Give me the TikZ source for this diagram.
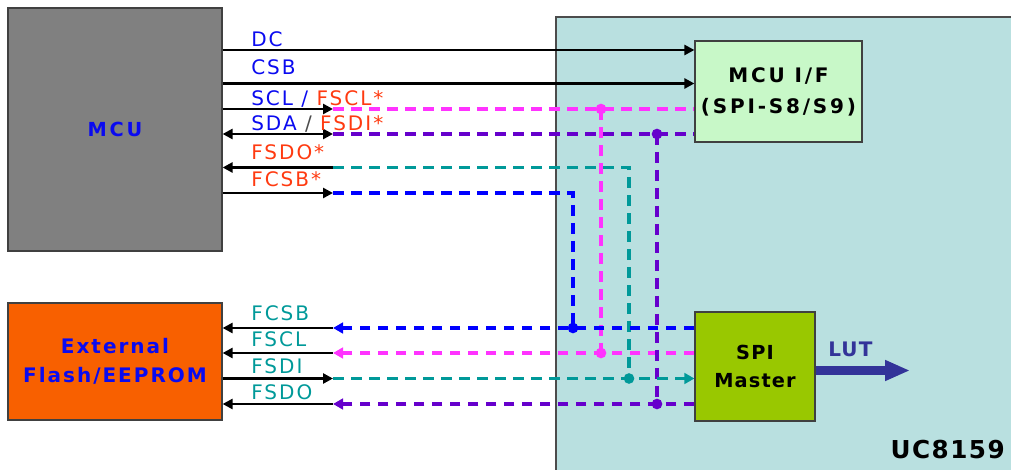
\documentclass[tikz,border=0pt]{standalone}
\usepackage{fontspec}
\setmainfont{DejaVu Sans}
\newfontfamily\lblfont[LetterSpace=10]{DejaVu Sans}
\newfontfamily\bldfont[LetterSpace=14]{DejaVu Sans Bold}
\newfontfamily\bldmid[LetterSpace=10]{DejaVu Sans Bold}
\newfontfamily\bldtight[LetterSpace=6]{DejaVu Sans Bold}
\usetikzlibrary{arrows.meta}
\definecolor{mcugray}{HTML}{808080}
\definecolor{extorange}{HTML}{F86000}
\definecolor{ucbg}{HTML}{B9E0E0}
\definecolor{ifgreen}{HTML}{C8F8C8}
\definecolor{spigreen}{HTML}{99C800}
\definecolor{lutblue}{HTML}{333399}
\definecolor{sigmag}{HTML}{FF33FF}
\definecolor{sigpur}{HTML}{6600CC}
\definecolor{sigteal}{HTML}{009999}
\definecolor{sigblue}{HTML}{0000FF}
\definecolor{txtblue}{HTML}{0A0AF0}
\definecolor{fred}{HTML}{FF3A10}
\begin{document}
\begin{tikzpicture}[x=0.75pt,y=-0.75pt,
  box/.style={draw=black!75, line width=0.9pt, inner sep=0pt, align=center},
  blk/.style={draw=black, line width=2pt},
  tipR/.style={-{Triangle[length=7.5pt,width=7.5pt]}},
  tipL/.style={{Triangle[length=7.5pt,width=7.5pt]}-},
  tipLR/.style={{Triangle[length=7.5pt,width=7.5pt]}-{Triangle[length=7.5pt,width=7.5pt]}},
  dtip/.style={-{Triangle[length=7.5pt,width=8pt]}},
  sigdash/.style={line width=2.8pt, dash pattern=on 8pt off 5.5pt},
  lbl/.style={inner sep=0pt, anchor=base west, font=\lblfont\fontsize{15}{18}\selectfont},
  jdot/.style={circle, fill, inner sep=0pt, minimum size=8pt}
]
\useasboundingbox (0,0) rectangle (1011,470);

% UC8159 container
\node[fill=ucbg, inner sep=0pt, minimum width=341.25pt, minimum height=339.75pt] (uc) at (783.5,243.5) {};
\draw[black!70, line width=1.2pt] (uc.south west) -- (uc.north west) -- (uc.north east);
\node[anchor=base east, inner sep=0pt, font=\bldtight\fontsize{18.5}{22}\selectfont] (ucl) at (1005,458) {UC8159};

% blocks
\node[box, fill=mcugray, minimum width=160.5pt, minimum height=182.25pt, text=txtblue, font=\bldfont\fontsize{14.5}{18}\selectfont] (mcu) at (115,129.5) {MCU};
\node[box, fill=extorange, minimum width=160.5pt, minimum height=87.75pt, text=txtblue, font=\bldmid\fontsize{15}{21.75}\selectfont] (ext) at (115,361.5) {External\\Flash/EEPROM};
\node[box, fill=ifgreen, minimum width=125.25pt, minimum height=75.75pt, font=\bldfont\fontsize{15}{23.4}\selectfont] (mcuif) at (778.5,91.5) {MCU I/F\\(SPI-S8/S9)};
\node[box, fill=spigreen, minimum width=90pt, minimum height=81.75pt, font=\bldtight\fontsize{14.5}{21}\selectfont] (spim) at (755,366.5) {SPI\\Master};

% coordinates
\coordinate (dcE) at (695,50);
\coordinate (csbE) at (695,83.5);
\coordinate (sclA) at (333,109);
\coordinate (sdaA) at (333,134);
\coordinate (fsdoA) at (333,167.5);
\coordinate (fcsbA) at (333,193);
\coordinate (bcsbA) at (333,328);
\coordinate (bsclA) at (333,353);
\coordinate (bsdiA) at (333,378.5);
\coordinate (bsdoA) at (333,404);
\coordinate (tcorner) at (629,167.5);
\coordinate (bcorner) at (573,193);

% solid MCU signals
\draw[blk, tipR] (mcu.east |- dcE) -- (mcuif.west |- dcE);
\draw[blk, tipR] (mcu.east |- csbE) -- (mcuif.west |- csbE);
\draw[blk, tipR] (mcu.east |- sclA) -- (sclA);
\draw[blk, tipLR] (mcu.east |- sdaA) -- (sdaA);
\draw[blk, tipL] (mcu.east |- fsdoA) -- (fsdoA);
\draw[blk, tipR] (mcu.east |- fcsbA) -- (fcsbA);

% solid flash signals
\draw[blk, tipL] (ext.east |- bcsbA) -- (bcsbA);
\draw[blk, tipL] (ext.east |- bsclA) -- (bsclA);
\draw[blk, tipR] (ext.east |- bsdiA) -- (bsdiA);
\draw[blk, tipL] (ext.east |- bsdoA) -- (bsdoA);

% dashed: magenta (SCL)
\draw[sigdash, sigmag, line width=2.5pt] (sclA) -- (mcuif.west |- sclA);
\draw[sigdash, sigmag, line width=2.5pt] (601,109) -- (601,353);
\draw[sigdash, sigmag, line width=2.5pt, dtip] (spim.west |- bsclA) -- (bsclA);
\node[jdot, sigmag] (jm1) at (601,109) {};
\node[jdot, sigmag] (jm2) at (601,353) {};

% dashed: purple (SDA)
\draw[sigdash, sigpur, line width=3.3pt] (sdaA) -- (mcuif.west |- sdaA);
\draw[sigdash, sigpur, line width=3.3pt] (657,134) -- (657,404);
\draw[sigdash, sigpur, line width=3.3pt, dtip] (spim.west |- bsdoA) -- (bsdoA);
\node[jdot, sigpur] (jp1) at (657,134) {};
\node[jdot, sigpur] (jp2) at (657,404) {};

% dashed: teal (FSDO / FSDI)
\draw[sigdash, sigteal] (fsdoA) -- (tcorner) -- (629,378.5);
\draw[sigdash, sigteal, dtip] (bsdiA) -- (spim.west |- bsdiA);
\node[jdot, sigteal] (jt) at (629,378.5) {};

% dashed: blue (FCSB)
\draw[sigdash, sigblue] (fcsbA) -- (bcorner) -- (573,328);
\draw[sigdash, sigblue, dtip] (spim.west |- bcsbA) -- (bcsbA);
\node[jdot, sigblue] (jb) at (573,328) {};

% LUT arrow
\coordinate (lutE) at (910,370.5);
\draw[lutblue, line width=6.75pt, -{Triangle[length=18.75pt,width=14.5pt]}] (spim.east |- lutE) -- (lutE);
\node[anchor=base west, inner sep=0pt, text=lutblue, font=\bldtight\fontsize{15}{18}\selectfont] (lut) at (828,357) {LUT};

% labels
\node[lbl, text=txtblue] (ldc) at (251,46.5) {DC};
\node[lbl, text=txtblue] (lcsb) at (251,75) {CSB};
\node[lbl] (lscl) at (251,106) {\textcolor{txtblue}{SCL / }\textcolor{fred}{FSCL*}};
\node[lbl] (lsda) at (251,131) {\textcolor{txtblue}{SDA }\textcolor{black!70}{/ }\textcolor{fred}{FSDI*}};
\node[lbl, text=fred] (lfsdo) at (251,160) {FSDO*};
\node[lbl, text=fred] (lfcsb) at (251,186.5) {FCSB*};
\node[lbl, text=sigteal] (bl1) at (251,320.5) {FCSB};
\node[lbl, text=sigteal] (bl2) at (251,346.5) {FSCL};
\node[lbl, text=sigteal] (bl3) at (251,373.5) {FSDI};
\node[lbl, text=sigteal] (bl4) at (251,399.5) {FSDO};
\end{tikzpicture}
\end{document}
